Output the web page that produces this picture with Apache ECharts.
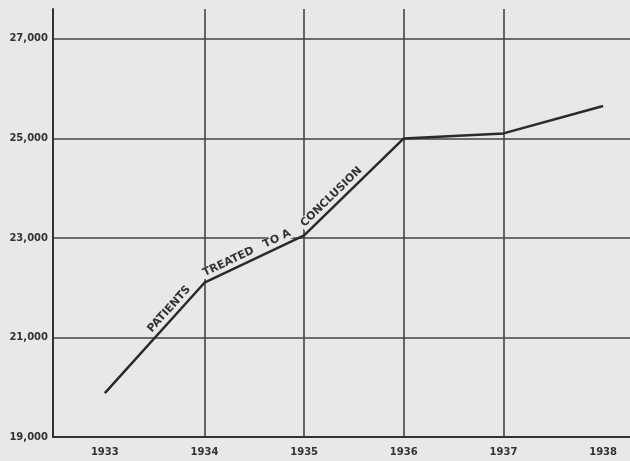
<!DOCTYPE html>
<html><head><meta charset="utf-8">
<script src="https://cdn.jsdelivr.net/npm/echarts@6/dist/echarts.min.js"></script>
<style>html,body{margin:0;padding:0;background:#e8e8e8}#c{width:630px;height:461px}</style>
</head><body><div id="c"></div>
<script>
var years = [1933, 1934, 1935, 1936, 1937, 1938];
var patients = [19880, 22100, 23050, 25000, 25100, 25650];
var yTicks = [19000, 21000, 23000, 25000, 27000];
var lineText = ['PATIENTS', 'TREATED   TO A', 'CONCLUSION'];

var paper = '#e8e8e8', ink = '#444';
var chart = echarts.init(document.getElementById('c'));
function seg(i, pos, dist) {
  return [{coord: [years[i], patients[i]], label: {formatter: lineText[i], position: pos, distance: dist}},
          {coord: [years[i + 1], patients[i + 1]]}];
}
chart.setOption({
  backgroundColor: paper,
  animation: false,
  grid: {left: 53, right: 0, top: 9, bottom: 24},
  xAxis: {
    type: 'value', min: 1932.48, max: 1938.27,
    axisLine: {show: true, lineStyle: {color: '#333', width: 2}},
    axisTick: {show: false, customValues: years},
    axisLabel: {customValues: years, color: '#333', fontFamily: 'DejaVu Sans', fontWeight: 'bold', fontSize: 10, margin: 10,
      formatter: function (v) { return String(v); }},
    splitLine: {show: true, showMinLine: false, showMaxLine: false, lineStyle: {color: ink, width: 1.6}}
  },
  yAxis: {
    type: 'value', min: 19000, max: 27600, interval: 2000,
    axisLine: {show: true, lineStyle: {color: '#333', width: 2}},
    axisTick: {show: false},
    axisLabel: {color: '#333', fontFamily: 'DejaVu Sans', fontWeight: 'bold', fontSize: 10, margin: 5,
      formatter: function (v) { return yTicks.indexOf(v) >= 0 ? v.toLocaleString('en-US') : ''; }},
    splitLine: {show: true, showMinLine: false, showMaxLine: false, lineStyle: {color: ink, width: 1.6}}
  },
  series: [{
    type: 'line',
    data: years.map(function (y, i) { return [y, patients[i]]; }),
    symbol: 'none',
    lineStyle: {color: '#2a2a2a', width: 2.5},
    markLine: {
      silent: true, symbol: 'none',
      lineStyle: {color: 'rgba(0,0,0,0)', width: 1, type: 'solid'},
      label: {show: true, color: '#333', fontFamily: 'DejaVu Sans', fontWeight: 'bold', fontSize: 11,
        backgroundColor: paper, padding: [0, 2]},
      data: [seg(0, 'insideEndTop', [12, 3]), seg(1, 'insideStartTop', [1, 3]), seg(2, 'insideStartTop', [4, 3])]
    }
  }]
});
</script></body></html>
